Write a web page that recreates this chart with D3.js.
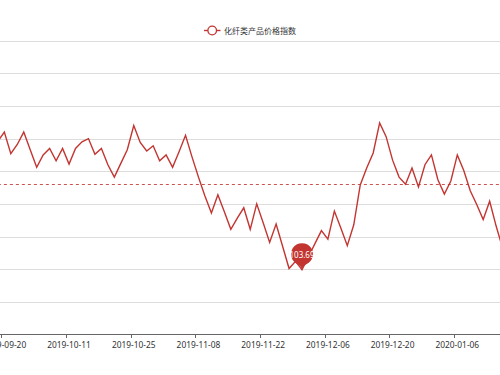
<!DOCTYPE html>
<html lang="zh">
<head>
<meta charset="UTF-8">
<title>化纤类产品价格指数</title>
<script src="https://d3js.org/d3.v7.min.js"></script>
<style>
  body { margin: 0; background: #fff; }
  svg { display: block; }
  .axis-label { font-family: "Noto Sans", sans-serif; font-size: 8.4px; fill: #333; }
  .legend-text { font-family: "Noto Sans CJK SC", sans-serif; font-size: 8px; fill: #333; }
  .pin-text { font-family: "Noto Sans", sans-serif; font-size: 8px; fill: #fff; }
</style>
</head>
<body>
<script>
  // trading days shown in the window
  const dates = [
    "2019-09-19", "2019-09-20", "2019-09-23", "2019-09-24", "2019-09-25", "2019-09-26", "2019-09-27", "2019-09-30",
    "2019-10-08", "2019-10-09", "2019-10-10", "2019-10-11", "2019-10-14", "2019-10-15", "2019-10-16", "2019-10-17",
    "2019-10-18", "2019-10-21", "2019-10-22", "2019-10-23", "2019-10-24", "2019-10-25", "2019-10-28", "2019-10-29",
    "2019-10-30", "2019-10-31", "2019-11-01", "2019-11-04", "2019-11-05", "2019-11-06", "2019-11-07", "2019-11-08",
    "2019-11-11", "2019-11-12", "2019-11-13", "2019-11-14", "2019-11-15", "2019-11-18", "2019-11-19", "2019-11-20",
    "2019-11-21", "2019-11-22", "2019-11-25", "2019-11-26", "2019-11-27", "2019-11-28", "2019-11-29", "2019-12-02",
    "2019-12-03", "2019-12-04", "2019-12-05", "2019-12-06", "2019-12-09", "2019-12-10", "2019-12-11", "2019-12-12",
    "2019-12-13", "2019-12-16", "2019-12-17", "2019-12-18", "2019-12-19", "2019-12-20", "2019-12-23", "2019-12-24",
    "2019-12-25", "2019-12-26", "2019-12-27", "2019-12-30", "2019-12-31", "2020-01-02", "2020-01-03", "2020-01-06",
    "2020-01-07", "2020-01-08", "2020-01-09", "2020-01-10", "2020-01-13", "2020-01-14", "2020-01-15"
  ];

  const values = [
    105.66, 105.80, 105.47, 105.61, 105.80, 105.53, 105.26, 105.45, 105.55, 105.36,
    105.55, 105.31, 105.55, 105.65, 105.70, 105.46, 105.55, 105.30, 105.11, 105.32,
    105.53, 105.90, 105.64, 105.51, 105.59, 105.36, 105.45, 105.26, 105.50, 105.75,
    105.42, 105.11, 104.82, 104.56, 104.84, 104.58, 104.31, 104.48, 104.64, 104.31,
    104.70, 104.41, 104.11, 104.39, 104.05, 103.71, 103.82, 103.69, 103.89, 104.09,
    104.29, 104.16, 104.59, 104.33, 104.06, 104.38, 104.99, 105.25, 105.48, 105.94,
    105.73, 105.37, 105.11, 105.00, 105.25, 104.96, 105.30, 105.45, 105.07, 104.85,
    105.05, 105.45, 105.21, 104.90, 104.69, 104.46, 104.74, 104.36, 104.02
  ];

  const seriesName = "化纤类产品价格指数";
  const yMin = 102.7;
  const yStep = 0.5;
  const yTicks = d3.range(10).map(i => +(yMin + i * yStep).toFixed(2));
  const labelEvery = 10;   // one label per 10 trading days
  const labelStart = 1;    // first labelled day: 2019-09-20

  const width = 500, height = 375;
  const color = "#c23531";

  const svg = d3.select("body").append("svg")
    .attr("width", width)
    .attr("height", height);

  // the plot area is wider than the window, so it runs past both edges
  const step = 6.471;
  const x0 = -5.37;
  const x = d3.scaleBand()
    .domain(dates)
    .range([x0, x0 + dates.length * step]);

  const y = d3.scaleLinear()
    .domain([yTicks[0], yTicks[yTicks.length - 1]])
    .range([334.4, 40.7]);

  const cx = i => x(dates[i]) + x.bandwidth() / 2;

  // grid lines
  svg.append("g")
    .selectAll("line")
    .data(yTicks.slice(1))
    .join("line")
    .attr("x1", 0).attr("x2", width)
    .attr("y1", d => Math.round(y(d)) + 0.5)
    .attr("y2", d => Math.round(y(d)) + 0.5)
    .attr("stroke", "#dddddd")
    .attr("stroke-width", 1);

  // x axis
  const axisY = Math.round(y(yTicks[0])) + 0.5;
  svg.append("line")
    .attr("x1", 0).attr("x2", width)
    .attr("y1", axisY).attr("y2", axisY)
    .attr("stroke", "#666")
    .attr("stroke-width", 1);

  const labelled = dates.filter((d, i) => i >= labelStart && (i - labelStart) % labelEvery === 0);

  svg.append("g")
    .selectAll("line")
    .data(labelled)
    .join("line")
    .attr("x1", d => Math.round(x(d)) + 0.5)
    .attr("x2", d => Math.round(x(d)) + 0.5)
    .attr("y1", axisY).attr("y2", axisY + 3.5)
    .attr("stroke", "#666");

  svg.append("g")
    .selectAll("text")
    .data(labelled)
    .join("text")
    .attr("class", "axis-label")
    .attr("x", d => x(d) + x.bandwidth() / 2)
    .attr("y", axisY + 13)
    .attr("text-anchor", "middle")
    .text(d => d);

  // average line
  const avg = d3.mean(values);
  const avgY = Math.round(y(avg)) + 0.5;
  svg.append("line")
    .attr("x1", cx(0)).attr("x2", cx(values.length - 1))
    .attr("y1", avgY).attr("y2", avgY)
    .attr("stroke", color)
    .attr("stroke-opacity", 0.85)
    .attr("stroke-width", 1)
    .attr("stroke-dasharray", "3,3");

  // series line
  const line = d3.line()
    .x((d, i) => cx(i))
    .y(d => y(d));

  svg.append("path")
    .datum(values)
    .attr("fill", "none")
    .attr("stroke", color)
    .attr("stroke-width", 1.4)
    .attr("d", line);

  // min pin
  const minIdx = d3.minIndex(values);
  const px = cx(minIdx), py = y(values[minIdx]);
  function pinPath(x, yTip, w, h) {
    const r = w / 2;
    const dy = r * r / (h - r);
    const cy = yTip - h + r + dy;
    const angle = Math.asin(dy / r);
    const dx = Math.cos(angle) * r;
    const tanX = Math.sin(angle), tanY = Math.cos(angle);
    const cp = r * 0.6, cp2 = r * 0.7;
    const p = d3.path();
    p.moveTo(x - dx, cy + dy);
    p.arc(x, cy, r, Math.PI - angle, Math.PI * 2 + angle);
    p.bezierCurveTo(x + dx - tanX * cp, cy + dy + tanY * cp, x, yTip - cp2, x, yTip);
    p.bezierCurveTo(x, yTip - cp2, x - dx + tanX * cp, cy + dy + tanY * cp, x - dx, cy + dy);
    p.closePath();
    return p.toString();
  }
  svg.append("path")
    .attr("d", pinPath(px, py + 1.5, 22, 33.5))
    .attr("fill", color);
  svg.append("text")
    .attr("class", "pin-text")
    .attr("x", px)
    .attr("y", py - 12)
    .attr("text-anchor", "middle")
    .text(values[minIdx].toFixed(2));

  // legend
  const legend = svg.append("g").attr("transform", "translate(204,30.5)");
  legend.append("line")
    .attr("x1", 0).attr("x2", 16.5)
    .attr("stroke", color).attr("stroke-width", 1.4);
  legend.append("circle")
    .attr("cx", 8.2).attr("r", 4.3)
    .attr("fill", "#fff")
    .attr("stroke", color).attr("stroke-width", 1.3);
  legend.append("text")
    .attr("class", "legend-text")
    .attr("x", 20)
    .attr("y", 3)
    .text(seriesName);
</script>
</body>
</html>
